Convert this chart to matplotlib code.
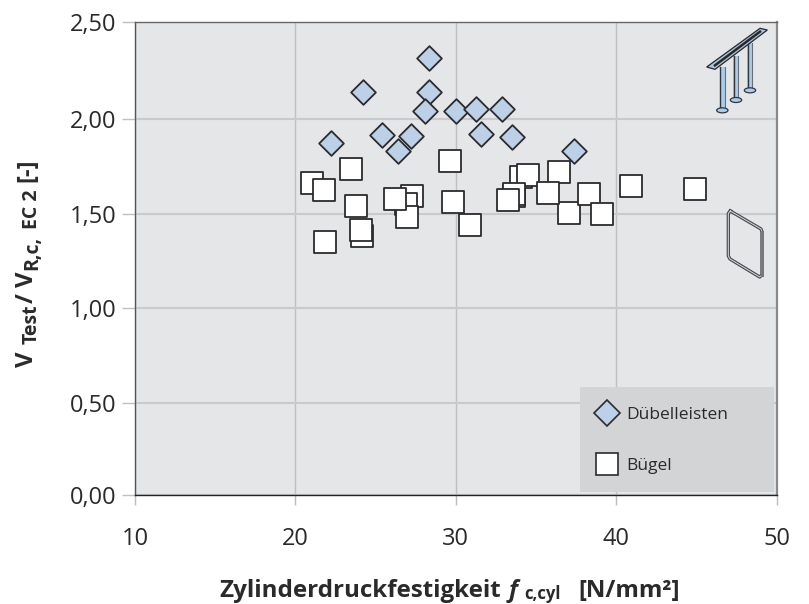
import matplotlib
matplotlib.use("Agg")
import matplotlib.pyplot as plt
from matplotlib.lines import Line2D
from matplotlib.patches import Polygon, Ellipse, Rectangle
from matplotlib.transforms import Affine2D

W, H = 809, 604

# ---- data -------------------------------------------------------------
duebel_x = [28.30, 24.22, 28.30, 28.07, 29.98, 31.27, 32.85, 25.41, 27.18, 26.39, 22.19, 31.58, 33.53, 37.37]
duebel_y = [2.324, 2.142, 2.145, 2.041, 2.041, 2.053, 2.052, 1.914, 1.911, 1.831, 1.872, 1.923, 1.904, 1.830]

buegel_x = [21.05, 21.76, 23.46, 23.75, 21.84, 24.16, 24.10, 27.24, 26.87, 26.97, 26.22,
            29.61, 29.83, 30.87, 34.03, 34.50, 33.64, 33.61, 33.22, 36.40, 37.06, 35.77,
            38.30, 39.13, 40.90, 44.89]
buegel_y = [1.662, 1.627, 1.736, 1.543, 1.351, 1.382, 1.414, 1.595, 1.553, 1.484, 1.576,
            1.780, 1.564, 1.439, 1.696, 1.705, 1.595, 1.606, 1.571, 1.722, 1.502, 1.611,
            1.604, 1.499, 1.647, 1.631]

x_ticks = [10, 20, 30, 40, 50]
x_tick_labels = ["10", "20", "30", "40", "50"]
y_tick_labels = ["0,00", "0,50", "1,00", "1,50", "2,00", "2,50"]
y_ticks = [0.014, 0.5, 1.0, 1.5, 2.0, 2.513]

legend_labels = ["Dübelleisten", "Bügel"]

# ---- style ------------------------------------------------------------
plt.rcParams["font.family"] = ["Open Sans", "DejaVu Sans"]
TXT = "#2b2a2b"
BG = "#e5e6e8"
GRID = "#c9cacc"
BLUE = "#bcd0e8"
EDGE = "#2b2b2d"

fig = plt.figure(figsize=(W / 100, H / 100), dpi=100)
ax = fig.add_axes([135 / W, (H - 495) / H, 641.7 / W, 473 / H])
ax.set_facecolor(BG)
ax.set_xlim(10, 50)
ax.set_ylim(y_ticks[0], y_ticks[-1])

ax.set_xticks(x_ticks)
ax.set_xticklabels(x_tick_labels)
ax.set_yticks(y_ticks)
ax.set_yticklabels(y_tick_labels)
ax.tick_params(axis="x", length=7.2, width=1.0, color="#bcbcbc", labelsize=17, labelcolor=TXT, pad=15.5)
ax.tick_params(axis="y", length=9.4, width=1.0, color="#c0c0c0", labelsize=17, labelcolor=TXT, pad=4)
ax.yaxis.get_major_ticks()[0].tick1line.set_color("#222222")
ax.yaxis.get_major_ticks()[-1].tick1line.set_color("#666666")
ax.xaxis.get_major_ticks()[0].tick1line.set_color("#666666")

ax.set_axisbelow(True)
ax.grid(axis="y", color=GRID, lw=1.5)
ax.grid(axis="x", color="#bfc0c2", lw=1.0)

ax.spines["left"].set(color="#555555", lw=1.0)
ax.spines["top"].set(color="#666666", lw=1.0)
ax.spines["right"].set(color="#8a8a8a", lw=1.6)
ax.spines["bottom"].set(color="#222222", lw=1.0)

ax.scatter(buegel_x, buegel_y, marker="s", s=240, facecolor="white", edgecolor=EDGE, linewidth=1.3, zorder=3)
ax.scatter(duebel_x, duebel_y, marker="D", s=158, facecolor=BLUE, edgecolor=EDGE, linewidth=1.3, zorder=4)

# pixel coordinates, origin top left
PX = Affine2D().scale(1, -1).translate(0, H)

# legend panel and legend
ax.add_artist(Rectangle((580, 387), 193.5, 105, transform=PX, facecolor="#d3d4d6", edgecolor="none", zorder=5))
handles = [
    Line2D([], [], ls="", marker="D", ms=13.5, mfc=BLUE, mec=EDGE, mew=1.2),
    Line2D([], [], ls="", marker="s", ms=15.5, mfc="white", mec=EDGE, mew=1.2),
]
leg = ax.legend(handles, legend_labels, frameon=False, fontsize=12.5, labelcolor=TXT,
                loc="upper left", bbox_to_anchor=((594 - 135) / 641.7, (495 - 407) / 473),
                borderpad=0, borderaxespad=0, labelspacing=2.0, handletextpad=0.4, handlelength=1.45)
leg.set_zorder(6)


def poly(pts, ox, oy, **kw):
    fig.add_artist(Polygon([(ox + a / 3, oy + b / 3) for a, b in pts], closed=True, transform=PX, **kw))


def line(pts, ox, oy, **kw):
    fig.add_artist(Line2D([ox + a / 3 for a, b in pts], [oy + b / 3 for a, b in pts], transform=PX, **kw))


# stud rail icon
ox, oy = 660, 10
for cx, top, bot in [(187, 172, 298), (228, 138, 267), (270, 100, 238)]:
    poly([(cx - 8, top), (cx + 8, top), (cx + 8, bot), (cx - 8, bot)], ox, oy, facecolor="#a9cdee", edgecolor="none", zorder=7)
    line([(cx - 7, top), (cx - 7, bot)], ox, oy, color="#33363a", lw=1.0, zorder=7)
    line([(cx + 7, top), (cx + 7, bot)], ox, oy, color="#6a6f75", lw=0.8, zorder=7)
    fig.add_artist(Ellipse((ox + cx / 3, oy + (bot + 3) / 3), 34 / 3, 15 / 3, transform=PX,
                           facecolor="#a9cdee", edgecolor="#33363a", lw=0.9, zorder=8))
poly([(140, 171), (300, 55), (322, 60), (165, 178)], ox, oy, facecolor="#a9c4dd", edgecolor="#26282b", lw=0.9, zorder=9)
line([(165, 166), (300, 65)], ox, oy, color="#26282b", lw=1.8, zorder=10)

# stirrup icon
ox, oy = 680, 190
stirrup = [(151, 63), (243, 117), (246, 125), (246, 255), (239, 261), (150, 207), (145, 198), (145, 70), (151, 63)]
line(stirrup, ox, oy, color="#4a4c50", lw=2.4, zorder=7, solid_joinstyle="round")
line(stirrup, ox, oy, color="#d8d9db", lw=0.7, zorder=8, solid_joinstyle="round")
line([(246, 125), (246, 255)], ox, oy, color="#77797d", lw=2.2, zorder=8)


# composed axis labels
def chain(pieces, x, y, rotation=0):
    r = fig.canvas.get_renderer()
    for s, size, weight, style, drop, gap in pieces:
        if rotation == 0:
            px, py = x, y + drop
        else:
            px, py = x + drop, y
        t = fig.text(px / W, (H - py) / H, s, fontsize=size, fontweight=weight, fontstyle=style,
                     color=TXT, rotation=rotation, rotation_mode="anchor", ha="left", va="baseline")
        b = t.get_window_extent(r)
        adv = (b.width if rotation == 0 else b.height) + gap
        if rotation == 0:
            x += adv
        else:
            y -= adv


chain([("Zylinderdruckfestigkeit", 17.4, "bold", "normal", 0, 8),
       ("f", 17.4, "bold", "italic", 0, 7),
       ("c,cyl", 12, "bold", "normal", 2, 17),
       ("[N/mm²]", 17.4, "bold", "normal", 0, 0)], 219, 597)

chain([("V", 17.2, "bold", "normal", 0, 7),
       ("Test", 14, "bold", "normal", 4, 2),
       ("/", 17.2, "bold", "normal", 0, 6),
       ("V", 17.2, "bold", "normal", 0, 2),
       ("R,c,", 14, "bold", "normal", 4, 6),
       ("EC 2", 14, "bold", "normal", 4, 8),
       ("[-]", 17.2, "bold", "normal", 0, 0)], 33, 367, rotation=90)

fig.savefig("out.png", dpi=100)
